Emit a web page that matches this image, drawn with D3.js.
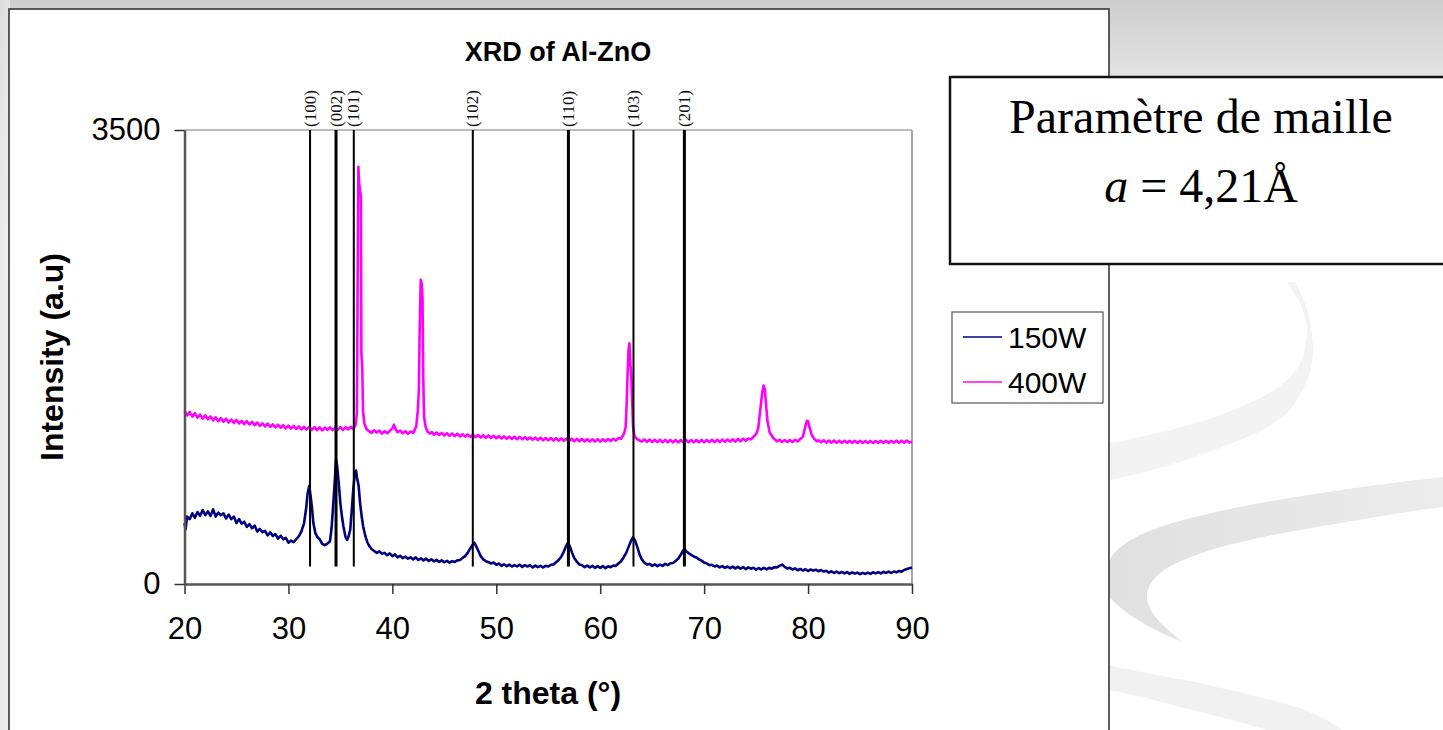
<!DOCTYPE html>
<html><head><meta charset="utf-8">
<script src="https://cdn.jsdelivr.net/npm/d3@7"></script>
<style>html,body{margin:0;padding:0;overflow:hidden;background:#fff}</style>
</head><body><svg id="chart" width="1443" height="730"></svg>
<script>
// ---------- data ----------
const chartTitle = "XRD of Al-ZnO";
const xTitle = "2 theta (°)";
const yTitle = "Intensity (a.u)";
const xTicks = [20, 30, 40, 50, 60, 70, 80, 90];
const yTicks = [0, 3500];
const seriesNames = ["150W", "400W"];
const peakLabels = ["(100)", "(002)", "(101)", "(102)", "(110)", "(103)", "(201)"];
const peakTheta = [32.08, 34.58, 36.29, 47.74, 56.94, 63.2, 68.1];
const peakLineBottom = 135;
const boxLine1 = "Paramètre de maille";
const boxLine2a = "a";
const boxLine2b = " = 4,21Å";

const data150W = [
 [20,470],[20.1,420],[20.25,520],[20.5,500],[20.75,545],[21,510],[21.25,555],[21.5,525],[21.75,570],
 [22,530],[22.25,560],[22.5,525],[22.75,575],[23,520],[23.25,550],[23.5,530],[23.75,545],[24,505],
 [24.25,535],[24.5,500],[24.75,520],[25,470],[25.25,500],[25.5,465],[25.75,480],[26,440],[26.25,462],
 [26.5,430],[26.75,450],[27,405],[27.25,425],[27.5,400],[27.75,410],[28,375],[28.25,398],[28.5,370],
 [28.75,385],[29,350],[29.25,372],[29.5,345],[29.75,355],[30,318],[30.25,335],[30.5,322],[30.75,345],
 [31,368],[31.25,405],[31.5,468],[31.7,580],[31.85,700],[32,755],[32.1,700],[32.25,600],[32.4,470],
 [32.6,390],[32.8,360],[33,345],[33.25,310],[33.5,300],[33.75,312],[34,330],[34.15,430],[34.3,600],
 [34.45,780],[34.58,960],[34.7,900],[34.85,770],[35,620],[35.15,520],[35.3,440],[35.5,360],[35.65,340],
 [35.8,370],[35.95,420],[36.1,575],[36.25,740],[36.4,860],[36.5,875],[36.6,820],[36.75,760],[36.9,620],
 [37.05,520],[37.2,440],[37.4,370],[37.6,320],[37.8,290],[38,270],[38.25,255],[38.5,240],[38.75,252],
 [39,232],[39.25,240],[39.5,222],[39.75,236],[40,214],[40.25,228],[40.5,205],[40.75,218],[41,200],
 [41.25,212],[41.5,195],[41.75,205],[42,190],[42.25,205],[42.5,185],[42.75,198],[43,182],[43.25,195],
 [43.5,178],[43.75,190],[44,175],[44.25,186],[44.5,170],[44.75,182],[45,168],[45.25,178],[45.5,165],
 [45.75,176],[46,170],[46.25,182],[46.5,185],[46.75,200],[47,215],[47.25,240],[47.5,275],[47.7,300],
 [47.9,318],[48.1,285],[48.3,250],[48.5,215],[48.75,190],[49,175],[49.25,168],[49.5,158],[49.75,165],
 [50,148],[50.25,158],[50.5,140],[50.75,152],[51,138],[51.25,150],[51.5,135],[51.75,146],[52,136],
 [52.25,148],[52.5,132],[52.75,145],[53,135],[53.25,145],[53.5,128],[53.75,142],[54,130],[54.25,140],
 [54.5,128],[54.75,140],[55,135],[55.25,148],[55.5,150],[55.75,168],[56,185],[56.25,210],[56.5,250],
 [56.7,290],[56.9,320],[57.1,285],[57.3,240],[57.5,200],[57.75,172],[58,150],[58.25,145],[58.5,130],
 [58.75,142],[59,128],[59.25,140],[59.5,124],[59.75,138],[60,125],[60.25,138],[60.5,122],[60.75,136],
 [61,130],[61.25,142],[61.5,140],[61.75,158],[62,175],[62.25,205],[62.5,240],[62.75,290],[62.95,330],
 [63.15,360],[63.35,335],[63.55,290],[63.8,225],[64,190],[64.25,165],[64.5,150],[64.75,155],[65,140],
 [65.25,152],[65.5,138],[65.75,150],[66,140],[66.25,155],[66.5,145],[66.75,160],[67,162],[67.25,178],
 [67.5,195],[67.75,225],[67.95,255],[68.1,268],[68.3,250],[68.5,238],[68.75,225],[69,212],[69.25,205],
 [69.5,190],[69.75,180],[70,165],[70.25,158],[70.5,145],[70.75,148],[71,135],[71.25,142],[71.5,128],
 [71.75,138],[72,125],[72.25,135],[72.5,122],[72.75,134],[73,120],[73.25,132],[73.5,118],[73.75,130],
 [74,115],[74.25,128],[74.5,118],[74.75,125],[75,110],[75.25,122],[75.5,112],[75.75,124],[76,113],
 [76.25,125],[76.5,118],[76.75,130],[77,128],[77.25,140],[77.5,150],[77.75,132],[78,120],[78.25,125],
 [78.5,112],[78.75,120],[79,106],[79.25,116],[79.5,104],[79.75,114],[80,100],[80.25,112],[80.5,103],
 [80.75,110],[81,98],[81.25,108],[81.5,96],[81.75,102],[82,88],[82.25,98],[82.5,86],[82.75,96],[83,84],
 [83.25,94],[83.5,82],[83.75,92],[84,78],[84.25,90],[84.5,80],[84.75,88],[85,76],[85.25,86],[85.5,78],
 [85.75,88],[86,78],[86.25,90],[86.5,82],[86.75,92],[87,82],[87.25,94],[87.5,86],[87.75,96],[88,85],
 [88.25,96],[88.5,90],[88.75,100],[89,95],[89.25,108],[89.5,115],[89.75,122],[90,128]
];

const data400W = [
 [20,1335],[20.25,1300],[20.5,1325],[20.75,1290],[21,1318],[21.25,1282],[21.5,1305],[21.75,1275],
 [22,1300],[22.25,1270],[22.5,1292],[22.75,1262],[23,1285],[23.25,1255],[23.5,1278],[23.75,1252],
 [24,1275],[24.25,1245],[24.5,1268],[24.75,1242],[25,1265],[25.25,1238],[25.5,1258],[25.75,1232],
 [26,1255],[26.25,1230],[26.5,1250],[26.75,1225],[27,1245],[27.25,1220],[27.5,1238],[27.75,1215],
 [28,1236],[28.25,1212],[28.5,1230],[28.75,1208],[29,1228],[29.25,1205],[29.5,1224],[29.75,1200],
 [30,1220],[30.25,1198],[30.5,1218],[30.75,1195],[31,1215],[31.25,1192],[31.5,1212],[31.75,1190],
 [32,1212],[32.25,1188],[32.5,1210],[32.75,1186],[33,1208],[33.25,1185],[33.5,1206],[33.75,1188],
 [34,1208],[34.25,1186],[34.5,1206],[34.75,1190],[35,1210],[35.25,1188],[35.5,1208],[35.75,1192],
 [36,1212],[36.25,1195],[36.4,1215],[36.5,1240],[36.58,1320],[36.62,1700],[36.66,2370],[36.73,3217],
 [36.8,3100],[36.9,3020],[36.97,2990],[37.02,1780],[37.1,1680],[37.18,1330],[37.3,1240],[37.5,1195],
 [37.75,1178],[38,1165],[38.25,1185],[38.5,1168],[38.75,1182],[39,1160],[39.25,1178],[39.5,1162],
 [39.75,1180],[40,1200],[40.15,1228],[40.3,1195],[40.5,1170],[40.75,1182],[41,1162],[41.25,1178],
 [41.5,1158],[41.75,1176],[42,1165],[42.15,1190],[42.3,1215],[42.45,1340],[42.55,1500],[42.62,1910],
 [42.73,2345],[42.82,2320],[42.9,2210],[42.97,1600],[43.05,1290],[43.2,1210],[43.4,1175],[43.6,1160],
 [43.8,1172],[44,1150],[44.25,1168],[44.5,1148],[44.75,1165],[45,1145],[45.25,1162],[45.5,1142],
 [45.75,1160],[46,1140],[46.25,1158],[46.5,1138],[46.75,1155],[47,1136],[47.25,1152],[47.5,1134],
 [47.75,1150],[48,1132],[48.25,1148],[48.5,1130],[48.75,1146],[49,1128],[49.25,1145],[49.5,1126],
 [49.75,1142],[50,1124],[50.25,1140],[50.5,1122],[50.75,1138],[51,1120],[51.25,1136],[51.5,1118],
 [51.75,1135],[52,1116],[52.25,1134],[52.5,1115],[52.75,1132],[53,1114],[53.25,1130],[53.5,1112],
 [53.75,1128],[54,1110],[54.25,1127],[54.5,1108],[54.75,1126],[55,1108],[55.25,1125],[55.5,1106],
 [55.75,1124],[56,1105],[56.25,1122],[56.5,1104],[56.75,1121],[57,1102],[57.25,1120],[57.5,1101],
 [57.75,1119],[58,1100],[58.25,1118],[58.5,1099],[58.75,1117],[59,1098],[59.25,1116],[59.5,1098],
 [59.75,1116],[60,1098],[60.25,1116],[60.5,1100],[60.75,1118],[61,1102],[61.25,1120],[61.5,1106],
 [61.75,1125],[62,1120],[62.15,1140],[62.3,1160],[62.45,1210],[62.55,1400],[62.62,1590],[62.72,1800],
 [62.81,1855],[62.9,1700],[62.98,1620],[63.06,1440],[63.16,1215],[63.3,1140],[63.5,1120],[63.75,1108],
 [64,1098],[64.25,1115],[64.5,1096],[64.75,1114],[65,1094],[65.25,1112],[65.5,1094],[65.75,1112],
 [66,1093],[66.25,1111],[66.5,1093],[66.75,1111],[67,1092],[67.25,1110],[67.5,1092],[67.75,1110],
 [68,1092],[68.25,1110],[68.5,1092],[68.75,1110],[69,1092],[69.25,1110],[69.5,1093],[69.75,1111],
 [70,1093],[70.25,1111],[70.5,1094],[70.75,1112],[71,1094],[71.25,1112],[71.5,1095],[71.75,1113],
 [72,1096],[72.25,1114],[72.5,1098],[72.75,1116],[73,1098],[73.25,1118],[73.5,1100],[73.75,1120],
 [74,1104],[74.25,1122],[74.5,1115],[74.75,1135],[75,1155],[75.2,1200],[75.4,1340],[75.58,1470],
 [75.72,1530],[75.84,1500],[75.97,1370],[76.1,1250],[76.3,1170],[76.6,1130],[76.85,1112],[77,1100],
 [77.25,1112],[77.5,1095],[77.75,1110],[78,1094],[78.25,1110],[78.5,1095],[78.75,1112],[79,1100],
 [79.25,1118],[79.5,1135],[79.72,1210],[79.88,1258],[80,1255],[80.15,1205],[80.35,1150],[80.6,1118],
 [80.85,1100],[81,1108],[81.25,1092],[81.5,1108],[81.75,1090],[82,1106],[82.25,1090],[82.5,1106],
 [82.75,1089],[83,1105],[83.25,1088],[83.5,1105],[83.75,1088],[84,1104],[84.25,1088],[84.5,1104],
 [84.75,1088],[85,1104],[85.25,1087],[85.5,1103],[85.75,1087],[86,1103],[86.25,1087],[86.5,1103],
 [86.75,1088],[87,1104],[87.25,1088],[87.5,1104],[87.75,1088],[88,1104],[88.25,1089],[88.5,1105],
 [88.75,1089],[89,1105],[89.25,1090],[89.5,1106],[89.75,1090],[90,1097]
];

const seriesColors = ["#000080", "#ff00ff"];

// ---------- drawing ----------
const svg = d3.select("#chart");
const defs = svg.append("defs");
const bg = defs.append("linearGradient").attr("id","bg").attr("x1",0).attr("y1",0).attr("x2",0).attr("y2",1);
bg.append("stop").attr("offset","0%").attr("stop-color","#cecece");
bg.append("stop").attr("offset","11%").attr("stop-color","#e4e4e4");
bg.append("stop").attr("offset","38%").attr("stop-color","#ffffff");
bg.append("stop").attr("offset","100%").attr("stop-color","#ffffff");
const bgL = defs.append("linearGradient").attr("id","bgL").attr("x1",0).attr("y1",0).attr("x2",1).attr("y2",0);
bgL.append("stop").attr("offset","0%").attr("stop-color","#e2e2e2");
bgL.append("stop").attr("offset","100%").attr("stop-color","#ececec");
const swB = defs.append("linearGradient").attr("id","swB").attr("x1",0).attr("y1",0).attr("x2",1).attr("y2",0);
swB.append("stop").attr("offset","0%").attr("stop-color","#e0e0e0");
swB.append("stop").attr("offset","100%").attr("stop-color","#ececec");

svg.append("rect").attr("width",1443).attr("height",730).attr("fill","url(#bg)");
svg.append("rect").attr("x",0).attr("y",0).attr("width",10).attr("height",730).attr("fill","url(#bgL)").attr("opacity",0.7);

// decorative swooshes
const swoosh = svg.append("g");
swoosh.append("path").attr("fill","#f3f3f3")
  .attr("d","M1287,282 C1300,300 1308,318 1307,333 C1306,350 1302,362 1296,370 C1285,385 1265,397 1240,407 C1210,420 1170,432 1110,443 L1110,480 C1150,472 1190,460 1240,440 C1270,428 1290,415 1300,395 C1310,378 1314,360 1313,345 C1312,320 1305,300 1295,282 Z");
swoosh.append("path").attr("fill","url(#swB)")
  .attr("d","M1443,477 C1380,484 1317,493 1260,503 C1207,513 1170,522 1140,535 C1120,545 1110,555 1108,565 L1108,595 C1118,608 1140,625 1183,642 C1165,628 1150,615 1147,600 C1146,585 1155,572 1183,560 C1210,549 1240,540 1317,527 C1360,520 1400,512 1443,507 Z");
swoosh.append("path").attr("fill","#f1f1f1")
  .attr("d","M1108,665 C1140,672 1170,677 1200,683 C1240,692 1280,702 1300,708 C1320,716 1335,724 1342,730 L1267,730 C1240,722 1210,714 1183,708 C1160,701 1135,695 1108,690 Z");

// white chart panel
svg.append("rect").attr("x",9).attr("y",9).attr("width",1100).attr("height",730)
  .attr("fill","#ffffff").attr("stroke","#2a2a2a").attr("stroke-width",1.5);

const x = d3.scaleLinear().domain([20, 90]).range([184.5, 912]);
const y = d3.scaleLinear().domain([0, 3500]).range([584, 130]);

// plot frame (top and right)
svg.append("line").attr("x1",x(20)).attr("x2",x(90)).attr("y1",y(3500)).attr("y2",y(3500))
  .attr("stroke","#a6a6a6").attr("stroke-width",1.5);
svg.append("line").attr("x1",x(90)).attr("x2",x(90)).attr("y1",y(3500)).attr("y2",y(0))
  .attr("stroke","#a6a6a6").attr("stroke-width",2);

// series
const line = d3.line().x(d => x(d[0])).y(d => y(d[1]));
[data150W, data400W].forEach((data, i) => {
  svg.append("path").datum(data).attr("d", line)
    .attr("fill","none").attr("stroke", seriesColors[i]).attr("stroke-width",2.6)
    .attr("stroke-linejoin","round");
});

// reference lines
const peakWidths = [2, 3, 2, 2, 3, 2, 3];
svg.append("g").selectAll("line").data(peakTheta).join("line")
  .attr("x1", d => x(d)).attr("x2", d => x(d))
  .attr("y1", y(3500)).attr("y2", y(peakLineBottom))
  .attr("stroke","#000").attr("stroke-width",(d,i)=>peakWidths[i]);

svg.append("g").selectAll("text").data(peakTheta).join("text")
  .attr("transform", d => `translate(${x(d)},127) rotate(-90)`)
  .attr("text-anchor","start").attr("dominant-baseline","central")
  .attr("font-family","'Liberation Serif','Times New Roman',serif").attr("font-size",17)
  .attr("fill","#111")
  .text((d,i) => peakLabels[i]);

// axes
const xAxis = svg.append("g").attr("transform",`translate(0,${y(0)})`)
  .call(d3.axisBottom(x).tickValues(xTicks).tickFormat(d3.format("d")).tickSize(10).tickSizeOuter(0).tickPadding(23));
xAxis.select(".domain").attr("stroke","#555").attr("stroke-width",2.5);
xAxis.selectAll(".tick line").attr("stroke","#333").attr("stroke-width",1.5);
xAxis.selectAll(".tick text").attr("font-family","'Liberation Sans',Arial,sans-serif").attr("font-size",31).attr("fill","#000");

const yAxis = svg.append("g").attr("transform",`translate(${x(20)},0)`)
  .call(d3.axisLeft(y).tickValues(yTicks).tickFormat(d3.format("d")).tickSize(10).tickSizeOuter(0).tickPadding(14));
yAxis.select(".domain").attr("stroke","#555").attr("stroke-width",2.5);
yAxis.selectAll(".tick line").attr("stroke","#333").attr("stroke-width",1.5);
yAxis.selectAll(".tick text").attr("font-family","'Liberation Sans',Arial,sans-serif").attr("font-size",31).attr("fill","#000");

// texts
svg.append("text").attr("x",558).attr("y",61).attr("text-anchor","middle")
  .attr("font-family","'Liberation Sans',Arial,sans-serif").attr("font-weight","bold").attr("font-size",27)
  .text(chartTitle);
svg.append("text").attr("x",548).attr("y",704).attr("text-anchor","middle")
  .attr("font-family","'Liberation Sans',Arial,sans-serif").attr("font-weight","bold").attr("font-size",32)
  .text(xTitle);
svg.append("text").attr("transform","translate(63,357) rotate(-90)").attr("text-anchor","middle")
  .attr("font-family","'Liberation Sans',Arial,sans-serif").attr("font-weight","bold").attr("font-size",32)
  .text(yTitle);

// legend
const lg = svg.append("g");
lg.append("rect").attr("x",952).attr("y",312).attr("width",151).attr("height",91)
  .attr("fill","#fff").attr("stroke","#555").attr("stroke-width",1.2);
seriesNames.forEach((n,i) => {
  const cy = 337 + i*45;
  lg.append("line").attr("x1",963).attr("x2",1002).attr("y1",cy).attr("y2",cy)
    .attr("stroke",seriesColors[i]).attr("stroke-width",1.5);
  lg.append("text").attr("x",1008).attr("y",cy+11)
    .attr("font-family","'Liberation Sans',Arial,sans-serif").attr("font-size",30).text(n);
});

// parameter box
svg.append("rect").attr("x",950).attr("y",77).attr("width",520).attr("height",187)
  .attr("fill","#fff").attr("stroke","#111").attr("stroke-width",2.5);
svg.append("text").attr("x",1201).attr("y",133).attr("text-anchor","middle")
  .attr("font-family","'Liberation Serif','Times New Roman',serif").attr("font-size",48).text(boxLine1);
const t2 = svg.append("text").attr("x",1201).attr("y",202).attr("text-anchor","middle")
  .attr("font-family","'Liberation Serif','Times New Roman',serif").attr("font-size",48);
t2.append("tspan").attr("font-style","italic").text(boxLine2a);
t2.append("tspan").text(boxLine2b);
</script></body></html>
